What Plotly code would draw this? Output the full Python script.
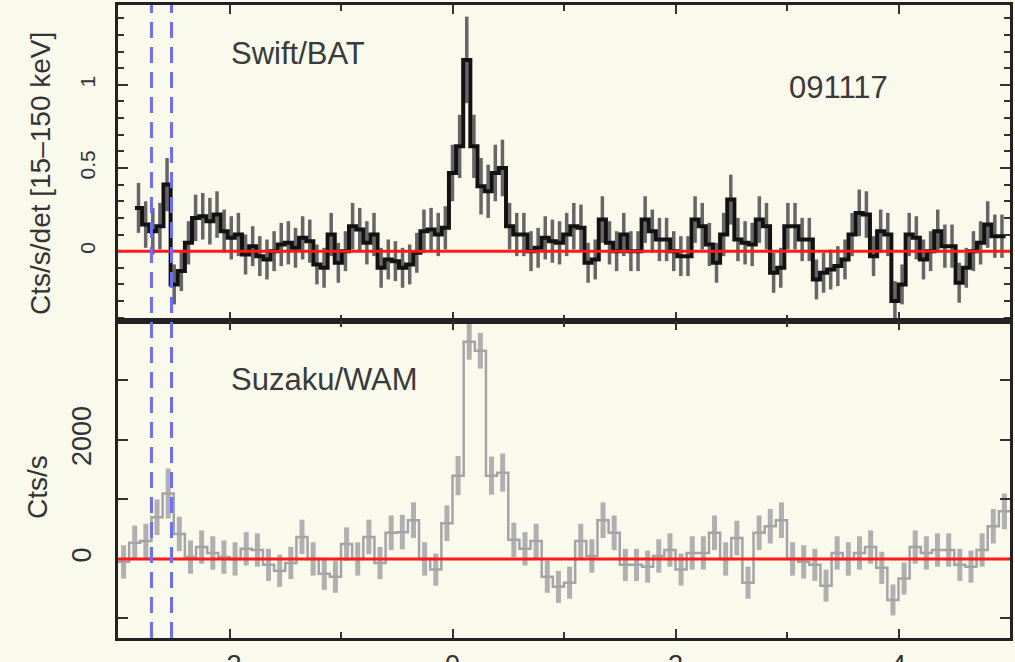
import numpy as np
import plotly.graph_objects as go
from plotly.subplots import make_subplots

# ---------------- data ----------------
bat_start = -2.848   # first bin edge (s)
bat_width = 0.064    # bin width (s)
bat_rate = [0.26, 0.16, 0.12, 0.15, 0.40, -0.20, -0.12, 0.05, 0.20, 0.21,
            0.18, 0.22, 0.12, 0.08, 0.10, -0.02, 0.03, -0.03, -0.05, 0.00,
            0.04, 0.05, 0.02, 0.08, 0.06, -0.08, -0.10, 0.10, -0.07, 0.00,
            0.15, 0.13, 0.05, 0.10, -0.10, -0.05, -0.06, -0.10, -0.08, -0.01,
            0.12, 0.13, 0.10, 0.14, 0.47, 0.63, 1.15, 0.63, 0.39, 0.36,
            0.47, 0.50, 0.15, 0.10, 0.10, 0.00, 0.02, 0.08, 0.06, 0.05,
            0.10, 0.15, 0.14, -0.07, -0.05, 0.19, 0.05, 0.00, 0.10, 0.00,
            0.00, 0.19, 0.12, 0.07, 0.07, 0.00, -0.03, -0.03, 0.19, 0.15,
            0.04, -0.07, 0.10, 0.31, 0.07, 0.05, 0.04, 0.19, 0.15, -0.13,
            -0.10, 0.15, 0.15, 0.07, 0.07, -0.17, -0.13, -0.11, -0.09, -0.05,
            0.10, 0.23, 0.22, -0.03, 0.12, 0.10, -0.30, -0.20, 0.10, 0.08,
            -0.05, 0.00, 0.12, 0.03, 0.03, -0.19, -0.10, 0.00, 0.05, 0.16,
            0.09, 0.09]
bat_err = [0.15, 0.14, 0.14, 0.14, 0.16, 0.12, 0.12, 0.13, 0.14, 0.14,
           0.14, 0.14, 0.13, 0.13, 0.13, 0.12, 0.12, 0.12, 0.12, 0.12,
           0.13, 0.13, 0.12, 0.13, 0.13, 0.12, 0.12, 0.13, 0.12, 0.12,
           0.14, 0.13, 0.13, 0.13, 0.12, 0.12, 0.12, 0.12, 0.12, 0.12,
           0.13, 0.13, 0.13, 0.13, 0.17, 0.19, 0.26, 0.19, 0.17, 0.16,
           0.17, 0.17, 0.14, 0.13, 0.13, 0.12, 0.12, 0.13, 0.13, 0.13,
           0.13, 0.14, 0.14, 0.12, 0.12, 0.14, 0.13, 0.12, 0.13, 0.12,
           0.12, 0.14, 0.13, 0.13, 0.13, 0.12, 0.12, 0.12, 0.14, 0.14,
           0.13, 0.12, 0.13, 0.15, 0.13, 0.13, 0.13, 0.14, 0.14, 0.12,
           0.12, 0.14, 0.14, 0.13, 0.13, 0.12, 0.12, 0.12, 0.12, 0.12,
           0.13, 0.14, 0.14, 0.12, 0.13, 0.13, 0.12, 0.12, 0.13, 0.13,
           0.12, 0.12, 0.13, 0.13, 0.13, 0.12, 0.12, 0.12, 0.13, 0.14,
           0.13, 0.13]

wam_start = -3.0
wam_width = 0.1
wam_rate = [-50, 270, 300, 700, 1100, 420, 30, 200, 100, 30,
            0, 170, 150, -100, -200, -70, 370, 0, -250, -300,
            250, 0, 370, -70, 440, 450, 650, 0, -180, 600,
            1400, 3650, 3500, 1400, 1450, 320, 170, 300, -300, -470,
            -400, 300, 50, 650, 440, -100, -100, -130, 50, 150,
            -180, 100, 100, 440, 0, 350, -400, 440, 550, 650,
            0, -50, -100, -450, 100, 0, 100, 200, -150, -690,
            -330, 200, 100, 150, 150, -100, -130, 150, 550, 800]
wam_err = [280, 290, 290, 300, 420, 290, 280, 280, 280, 280,
           280, 280, 280, 270, 270, 270, 290, 280, 270, 270,
           280, 280, 290, 270, 290, 290, 300, 280, 270, 300,
           330, 300, 300, 320, 320, 290, 280, 290, 270, 270,
           270, 290, 280, 300, 290, 270, 270, 270, 280, 280,
           270, 280, 280, 290, 280, 290, 270, 290, 290, 300,
           280, 280, 270, 270, 280, 280, 280, 280, 270, 260,
           270, 280, 280, 280, 280, 270, 270, 280, 290, 300]

trigger_marks = [-2.70, -2.52]
x_ticks = [-2, 0, 2, 4]
x_ticktext = ["-2", "0", "2", "4"]
bat_ticks = [0, 0.5, 1]
bat_ticktext = ["0", "0.5", "1"]
wam_ticks = [0, 2000]
wam_ticktext = ["0", "2000"]

# ---------------- derived bin geometry ----------------
def steps(start, width, vals):
    n = len(vals)
    edges = start + width * np.arange(n + 1)
    centers = start + width * (np.arange(n) + 0.5)
    ys = list(vals) + [vals[-1]]
    return edges, ys, centers

bat_edges, bat_steps, bat_cent = steps(bat_start, bat_width, bat_rate)
wam_edges, wam_steps, wam_cent = steps(wam_start, wam_width, wam_rate)

BG = "#f9f9ec"
FONT = "Liberation Sans, Arial, sans-serif"

fig = make_subplots(rows=2, cols=1, shared_xaxes=True, vertical_spacing=0)

# BAT
fig.add_trace(go.Scatter(x=bat_cent, y=bat_rate, mode="markers",
                         marker=dict(size=1, color="rgba(0,0,0,0)"),
                         error_y=dict(type="data", array=bat_err, color="#666666",
                                      thickness=3.5, width=0),
                         showlegend=False, hoverinfo="skip"), row=1, col=1)
fig.add_trace(go.Scatter(x=bat_edges, y=bat_steps, mode="lines",
                         line=dict(shape="hv", color="#121212", width=4),
                         showlegend=False), row=1, col=1)
# WAM
fig.add_trace(go.Scatter(x=wam_cent, y=wam_rate, mode="markers",
                         marker=dict(size=1, color="rgba(0,0,0,0)"),
                         error_y=dict(type="data", array=wam_err, color="#b0b0b0",
                                      thickness=5, width=0),
                         showlegend=False, hoverinfo="skip"), row=2, col=1)
fig.add_trace(go.Scatter(x=wam_edges, y=wam_steps, mode="lines",
                         line=dict(shape="hv", color="#a4a4a4", width=2.5),
                         showlegend=False), row=2, col=1)

# zero lines
for yr in ["y", "y2"]:
    fig.add_shape(type="line", xref="x", yref=yr, x0=-3, x1=5, y0=0, y1=0,
                  line=dict(color="#ff1a1a", width=3), layer="above")
# trigger lines
for xv in trigger_marks:
    fig.add_shape(type="line", xref="x", yref="paper", x0=xv, x1=xv, y0=0, y1=1,
                  line=dict(color="#6c6cff", width=3, dash="16px,9px"), layer="above")

axis_common = dict(showline=True, linecolor="#222", linewidth=2.5, mirror="ticks",
                   ticks="inside", tickcolor="#333", tickwidth=2,
                   showgrid=False, zeroline=False, automargin=False)

fig.update_xaxes(range=[-3, 5], tickvals=x_ticks, ticktext=x_ticktext, ticklen=9,
                 ticklabelstandoff=1,
                 tickfont=dict(family=FONT, size=27, color="#333"),
                 minor=dict(dtick=1, ticks="inside", ticklen=6, tickcolor="#333", tickwidth=2),
                 **axis_common)
fig.update_xaxes(showticklabels=False, row=1, col=1)

fig.update_yaxes(range=[-0.42, 1.48], tickvals=bat_ticks, ticktext=bat_ticktext,
                 ticklen=10, tickangle=-90, ticklabelstandoff=12,
                 tickfont=dict(family=FONT, size=21, color="#333"),
                 minor=dict(tickvals=[round(-0.4 + 0.1 * i, 2) for i in range(19)],
                            ticks="inside", ticklen=6, tickcolor="#333", tickwidth=2),
                 row=1, col=1, **axis_common)
fig.update_yaxes(range=[-1330, 4000], tickvals=wam_ticks, ticktext=wam_ticktext,
                 ticklen=10, tickangle=-90, ticklabelstandoff=13,
                 tickfont=dict(family=FONT, size=27, color="#333"),
                 minor=dict(tickvals=[-1000, 1000, 3000], ticks="inside", ticklen=10,
                            tickcolor="#333", tickwidth=2),
                 row=2, col=1, **axis_common)

H_PLOT = 633.0
fig.update_layout(
    width=1015, height=662,
    margin=dict(l=118, r=5, t=5, b=24, autoexpand=False),
    paper_bgcolor=BG, plot_bgcolor=BG,
    font=dict(family=FONT, color="#333"),
    xaxis2=dict(domain=[0, 1]),
    yaxis=dict(domain=[317 / H_PLOT, 1]),
    yaxis2=dict(domain=[0, 317 / H_PLOT]),
)

ann_font = dict(family=FONT, size=31, color="#3a3a3a")
fig.add_annotation(text="Swift/BAT", xref="paper", yref="paper",
                   x=(229 - 118) / 892, y=(638 - 53) / H_PLOT, xanchor="left", yanchor="middle",
                   showarrow=False, font=ann_font)
fig.add_annotation(text="091117", xref="paper", yref="paper",
                   x=(787 - 118) / 892, y=(638 - 87) / H_PLOT, xanchor="left", yanchor="middle",
                   showarrow=False, font=ann_font)
fig.add_annotation(text="Suzaku/WAM", xref="paper", yref="paper",
                   x=(229 - 118) / 892, y=(638 - 379) / H_PLOT, xanchor="left", yanchor="middle",
                   showarrow=False, font=ann_font)
fig.add_annotation(text="Cts/s/det [15–150 keV]", xref="paper", yref="paper",
                   x=(40 - 118) / 892, y=(638 - 174) / H_PLOT, xanchor="center", yanchor="middle",
                   textangle=-90, showarrow=False, font=dict(family=FONT, size=28, color="#333"))
fig.add_annotation(text="Cts/s", xref="paper", yref="paper",
                   x=(38 - 118) / 892, y=(638 - 487) / H_PLOT, xanchor="center", yanchor="middle",
                   textangle=-90, showarrow=False, font=dict(family=FONT, size=28, color="#333"))

fig.write_html("out.html", config={"displayModeBar": False},
               post_script="document.body.style.margin='0';document.body.style.background='" + BG + "';")
